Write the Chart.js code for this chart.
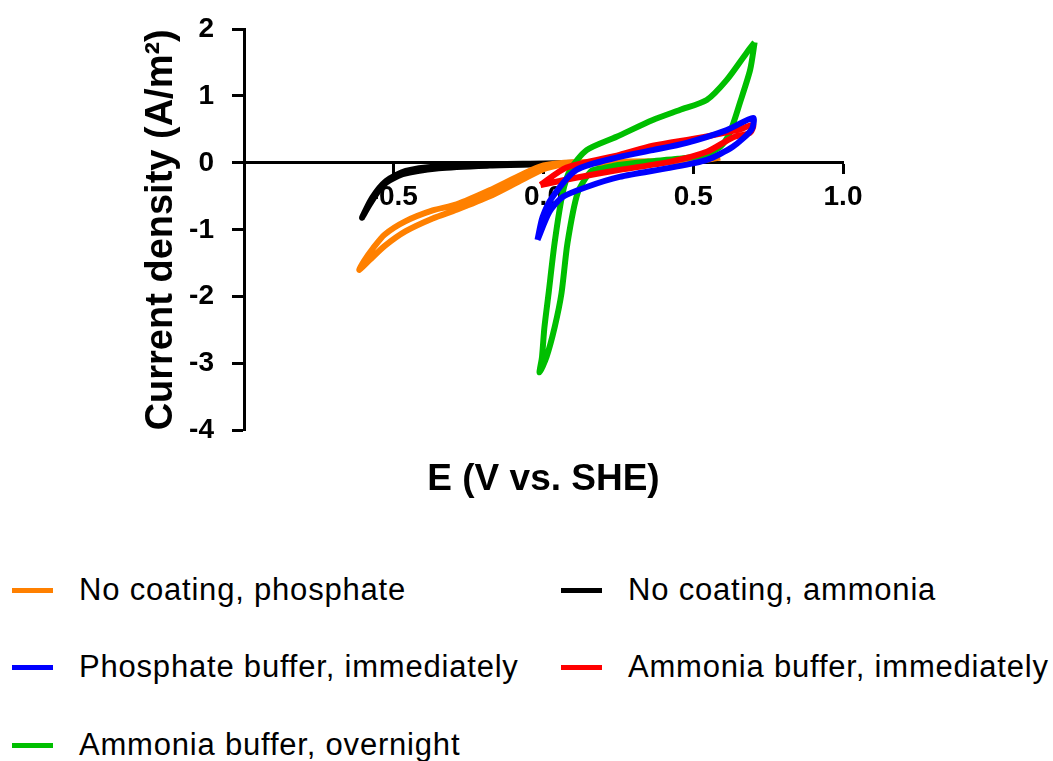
<!DOCTYPE html>
<html>
<head>
<meta charset="utf-8">
<script src="https://cdn.jsdelivr.net/npm/chart.js@4.4.1/dist/chart.umd.min.js"></script>
<style>
    body { margin: 0; background: #fff; }
    #wrap { position: relative; width: 1053px; height: 761px; overflow: hidden; }
    #chartBox { position: absolute; left: 0; top: 0; width: 1053px; height: 540px; }
    .legend-item { position: absolute; height: 40px; font-family: "Liberation Sans", Arial, sans-serif; font-size: 31px; color: #000; white-space: nowrap; }
    .legend-item .swatch { position: absolute; left: 0; top: 18px; width: 41px; height: 5px; }
    .legend-item .label { position: absolute; left: 67px; top: 2px; line-height: 36px; letter-spacing: 0.8px; }
</style>
</head>
<body>
<div id="wrap">
    <div id="chartBox"><canvas id="cvChart"></canvas></div>
    <div id="legend"></div>
</div>
<script>
// series names and colours (legend order)
const seriesNames = ["No coating, phosphate", "No coating, ammonia", "Phosphate buffer, immediately", "Ammonia buffer, immediately", "Ammonia buffer, overnight"];
const seriesColors = ["#FF8000", "#000000", "#0000FF", "#FF0000", "#00BF00"];

// potential E (V vs. SHE) and current density J (A/m2) for each CV loop
const orangeE = [0.59, 0.45, 0.3, 0.1, 0.01, -0.07, -0.18, -0.29, -0.37, -0.46, -0.53, -0.58, -0.615, -0.6, -0.57, -0.53, -0.46, -0.37, -0.29, -0.18, -0.07, 0.0, 0.1, 0.3, 0.45, 0.55, 0.59];
const orangeJ = [0.08, 0.02, 0.0, -0.01, -0.08, -0.25, -0.5, -0.7, -0.83, -1.02, -1.24, -1.45, -1.6, -1.47, -1.28, -1.07, -0.87, -0.71, -0.62, -0.41, -0.17, -0.04, 0.01, 0.02, 0.03, 0.05, 0.08];

const blackE = [0.1, 0.0, -0.18, -0.35, -0.46, -0.525, -0.572, -0.606, -0.58, -0.535, -0.47, -0.35, -0.18, 0.0, 0.1];
const blackJ = [0.0, -0.01, -0.02, -0.05, -0.12, -0.27, -0.52, -0.82, -0.62, -0.33, -0.17, -0.08, -0.04, -0.02, -0.01];

const blueE = [-0.02, -0.003, 0.03, 0.11, 0.254, 0.365, 0.478, 0.612, 0.7, 0.695, 0.632, 0.545, 0.421, 0.254, 0.144, 0.064, 0.02, -0.02];
const blueJ = [-1.15, -0.81, -0.51, -0.105, 0.09, 0.19, 0.3, 0.49, 0.67, 0.5, 0.24, 0.045, -0.075, -0.21, -0.36, -0.51, -0.73, -1.15];

const redE = [-0.01, 0.077, 0.254, 0.365, 0.522, 0.656, 0.7, 0.69, 0.632, 0.545, 0.421, 0.254, 0.104, -0.01];
const redJ = [-0.33, -0.07, 0.12, 0.255, 0.375, 0.5, 0.57, 0.45, 0.38, 0.165, 0.015, -0.105, -0.225, -0.33];

const greenE = [0.705, 0.69, 0.656, 0.622, 0.59, 0.54, 0.45, 0.35, 0.25, 0.2, 0.16, 0.114, 0.08, 0.06, 0.037, 0.01, -0.013, -0.005, 0.003, 0.017, 0.037, 0.064, 0.09, 0.144, 0.244, 0.365, 0.455, 0.545, 0.612, 0.679, 0.705];
const greenJ = [1.8, 1.39, 0.9, 0.45, 0.24, 0.12, 0.06, 0.02, -0.03, -0.08, -0.12, -0.45, -1.2, -1.95, -2.46, -2.9, -3.13, -2.9, -2.46, -1.95, -1.2, -0.45, -0.1, 0.19, 0.39, 0.64, 0.79, 0.94, 1.24, 1.65, 1.8];

// axis ticks
const xTicks = [-1.0, -0.5, 0.0, 0.5, 1.0];
const yTicks = [-4, -3, -2, -1, 0, 1, 2];

const FONT = '"Liberation Sans", Arial, Helvetica, sans-serif';

function toPoints(xs, ys) {
    return xs.map((x, i) => ({ x: x, y: ys[i] }));
}

function makeSet(idx, xs, ys, order) {
    return {
        label: seriesNames[idx],
        data: toPoints(xs, ys),
        borderColor: seriesColors[idx],
        backgroundColor: seriesColors[idx],
        borderWidth: 6,
        showLine: true,
        pointRadius: 0,
        tension: 0.25,
        fill: false,
        order: order // lower order is drawn on top
    };
}

const datasets = [
    makeSet(0, orangeE, orangeJ, 4),
    makeSet(1, blackE, blackJ, 5),
    makeSet(2, blueE, blueJ, 1),
    makeSet(3, redE, redJ, 2),
    makeSet(4, greenE, greenJ, 3)
];

const ctx = document.getElementById('cvChart').getContext('2d');
const cvChart = new Chart(ctx, {
    type: 'scatter',
    data: { datasets: datasets },
    options: {
        responsive: true,
        maintainAspectRatio: false,
        animation: false,
        layout: { padding: { left: 139, top: 29, right: 210, bottom: 0 } },
        plugins: {
            legend: { display: false },
            tooltip: { enabled: false }
        },
        scales: {
            x: {
                type: 'linear',
                min: -1,
                max: 1,
                position: { y: 0 },
                border: { color: '#000', width: 3 },
                grid: { drawOnChartArea: false, tickLength: 10, tickWidth: 3, tickColor: '#000' },
                afterBuildTicks: (scale) => { scale.ticks = xTicks.map(v => ({ value: v })); },
                ticks: {
                    color: '#000',
                    padding: 8,
                    maxRotation: 0,
                    font: { family: FONT, size: 28, weight: 'bold' },
                    callback: (v) => v === -1 ? '' : Number(v).toFixed(1)
                }
            },
            xTitle: {
                type: 'linear',
                axis: 'x',
                position: 'bottom',
                min: -1,
                max: 1,
                ticks: { display: false },
                grid: { display: false },
                border: { display: false },
                title: {
                    display: true,
                    text: 'E (V vs. SHE)',
                    color: '#000',
                    font: { family: FONT, size: 37, weight: 'bold' },
                    padding: { top: 19, bottom: 38 }
                }
            },
            y: {
                type: 'linear',
                min: -4,
                max: 2,
                position: 'left',
                border: { color: '#000', width: 3 },
                grid: { drawOnChartArea: false, tickLength: 12, tickWidth: 3, tickColor: '#000' },
                afterBuildTicks: (scale) => { scale.ticks = yTicks.map(v => ({ value: v })); },
                afterFit: (scale) => {
                    scale.width = 105;
                    scale.paddingTop = 0;
                    scale.paddingBottom = 0;
                },
                ticks: {
                    color: '#000',
                    padding: 18,
                    font: { family: FONT, size: 28, weight: 'bold' }
                },
                title: {
                    display: true,
                    text: 'Current density (A/m²)',
                    color: '#000',
                    font: { family: FONT, size: 38, weight: 'bold' },
                    padding: { top: 0, bottom: 0 }
                }
            }
        }
    }
});

// legend in two columns, like the original figure
const legendPos = [
    { left: 12, top: 570 },
    { left: 561, top: 570 },
    { left: 12, top: 647 },
    { left: 561, top: 647 },
    { left: 12, top: 725 }
];
const legendBox = document.getElementById('legend');
seriesNames.forEach((name, i) => {
    const item = document.createElement('div');
    item.className = 'legend-item';
    item.style.left = legendPos[i].left + 'px';
    item.style.top = legendPos[i].top + 'px';
    const sw = document.createElement('div');
    sw.className = 'swatch';
    sw.style.background = seriesColors[i];
    const lb = document.createElement('div');
    lb.className = 'label';
    lb.textContent = name;
    item.appendChild(sw);
    item.appendChild(lb);
    legendBox.appendChild(item);
});
</script>
</body>
</html>
